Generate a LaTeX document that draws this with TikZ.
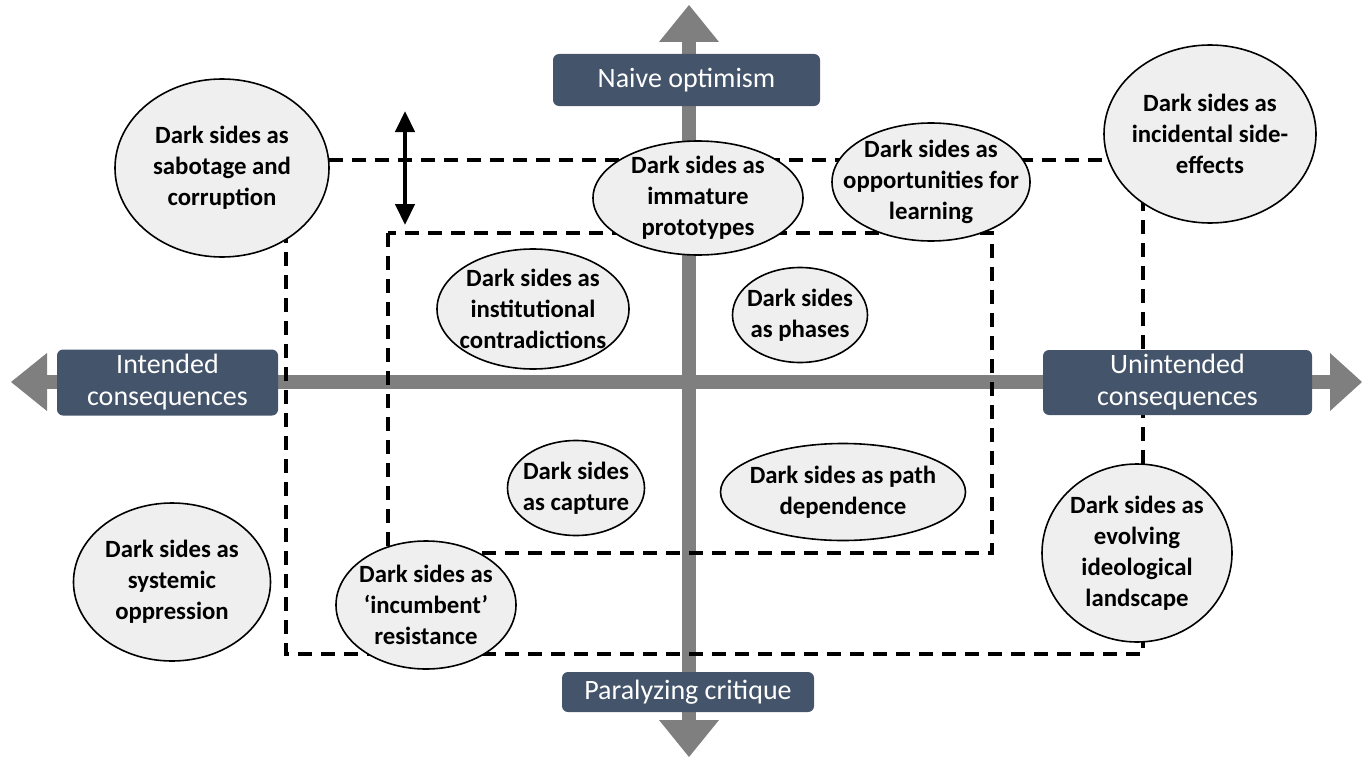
\documentclass[tikz,border=0pt]{standalone}
\usepackage{fontspec}
\setmainfont{Carlito}
\usetikzlibrary{shapes.geometric,arrows.meta}
\definecolor{axisgray}{RGB}{127,127,127}
\definecolor{boxblue}{RGB}{68,84,106}
\definecolor{ellfill}{RGB}{239,239,239}
\tikzset{
  dsell/.style={ellipse,draw=black,line width=1.6pt,fill=ellfill,inner sep=-40pt,
    align=center,font=\fontsize{24.8}{31}\selectfont\bfseries},
  axlabel/.style={rounded corners=6pt,fill=boxblue,text=white,inner sep=0pt,
    align=center,font=\fontsize{28}{32}\selectfont},
  dashbox/.style={draw=black,line width=3.6pt,dash pattern=on 14pt off 9pt},
  axisfill/.style={fill=axisgray,draw=none}
}
\begin{document}
\begin{tikzpicture}[x=1pt,y=-1pt]
\useasboundingbox (0,0) rectangle (1362,760);
% axes
\fill[axisfill] (682,42) rectangle (696,720);
\fill[axisfill] (659,42) -- (689,5) -- (719,42) -- cycle;
\fill[axisfill] (659,720) -- (689,757) -- (719,720) -- cycle;
\fill[axisfill] (46,375) rectangle (1331,389);
\fill[axisfill] (47,353) -- (11,382) -- (47,411) -- cycle;
\fill[axisfill] (1330,353) -- (1362,382) -- (1330,411) -- cycle;
% dashed rectangles
\draw[dashbox] (286,160) rectangle (1143,654);
\draw[dashbox] (388,233) rectangle (992,553);
% double arrow
\coordinate (da1) at (405,111);
\coordinate (da2) at (405,225);
\draw[line width=4.5pt,{Triangle[width=19pt,length=21pt]}-{Triangle[width=19pt,length=21pt]}] (da1) -- (da2);
% axis labels
\node[axlabel,minimum width=267pt,minimum height=52pt] (naive) at (686.5,80) {Naive optimism};
\node[axlabel,minimum width=252pt,minimum height=40pt] (para) at (688,692) {Paralyzing critique};
\node[axlabel,minimum width=221pt,minimum height=66pt] (intended) at (167.5,382.5) {Intended\\consequences};
\node[axlabel,minimum width=269pt,minimum height=65pt] (unintended) at (1177.5,382.5) {Unintended\\consequences};
% ellipses
\node[dsell,minimum width=214pt,minimum height=178pt] (sab) at (222,168) {Dark sides as\\sabotage and\\corruption};
\node[dsell,minimum width=210pt,minimum height=114pt] (imm) at (698,198) {Dark sides as\\immature\\prototypes};
\node[dsell,minimum width=198pt,minimum height=118pt] (opp) at (931,182) {Dark sides as\\opportunities for\\learning};
\node[dsell,minimum width=212pt,minimum height=178pt] (inc) at (1210,134) {Dark sides as\\incidental side-\\effects};
\node[dsell,minimum width=192pt,minimum height=120pt] (inst) at (533,309) {Dark sides as\\institutional\\contradictions};
\node[dsell,minimum width=135pt,minimum height=95pt] (phase) at (800,315) {Dark sides\\as phases};
\node[dsell,minimum width=137pt,minimum height=95pt] (capt) at (576,488) {Dark sides\\as capture};
\node[dsell,minimum width=245pt,minimum height=97pt] (path) at (843,492) {Dark sides as path\\dependence};
\node[dsell,minimum width=197pt,minimum height=158pt] (sys) at (172,582) {Dark sides as\\systemic\\oppression};
\node[dsell,minimum width=180pt,minimum height=128pt] (incb) at (426,605) {Dark sides as\\‘incumbent’\\resistance};
\node[dsell,minimum width=190pt,minimum height=178pt] (evo) at (1137,553) {Dark sides as\\evolving\\ideological\\landscape};
\end{tikzpicture}
\end{document}
